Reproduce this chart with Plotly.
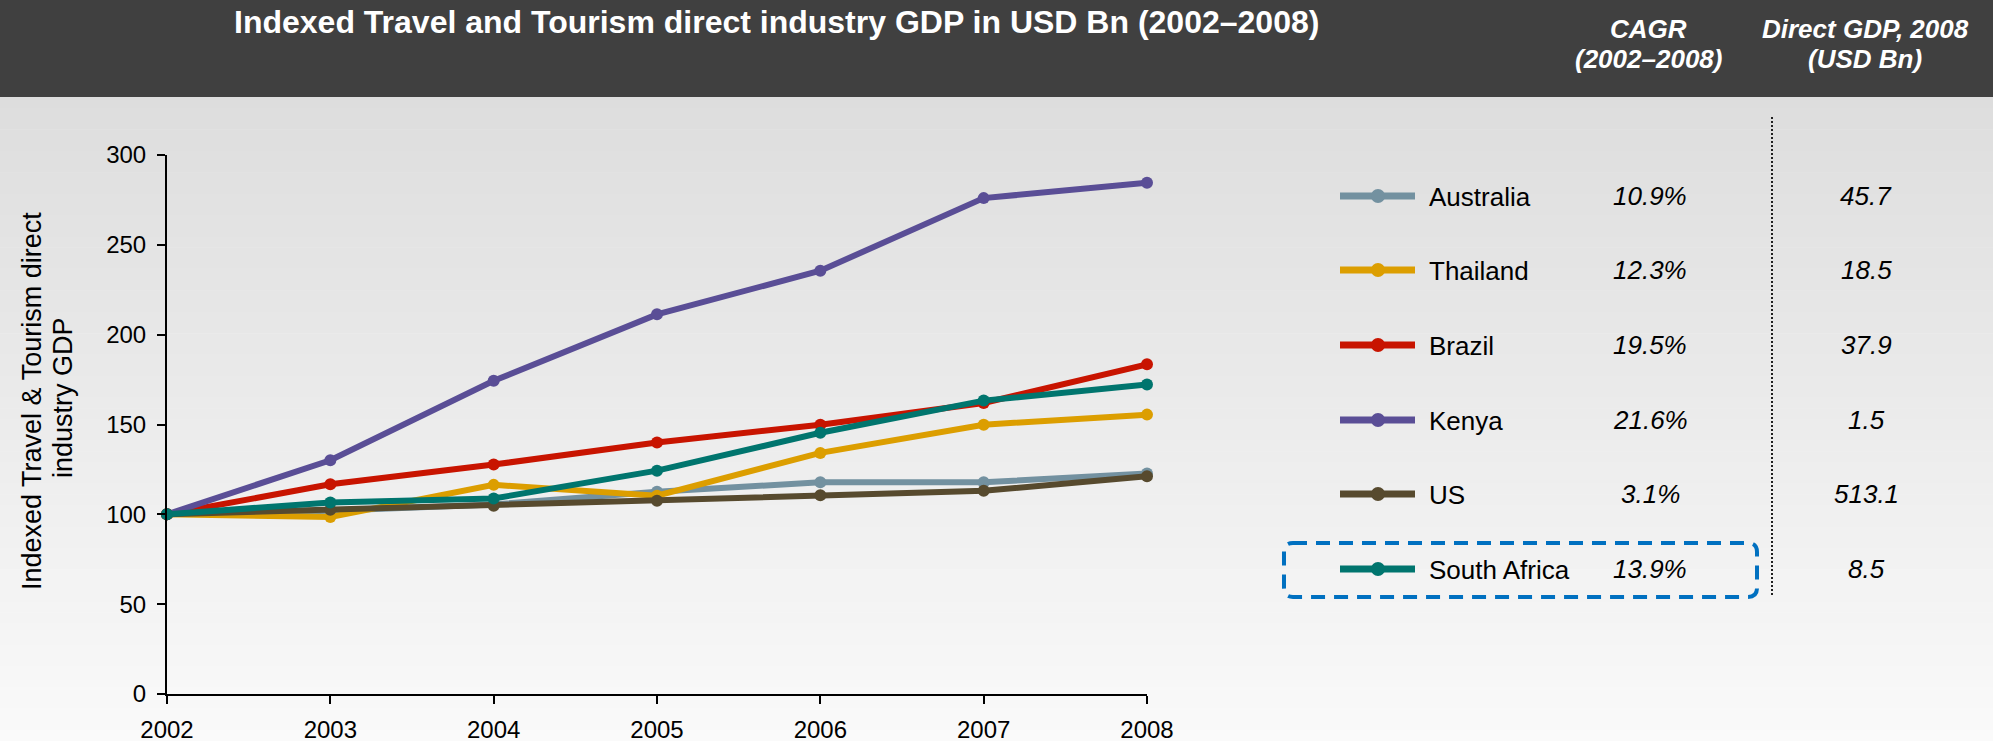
import plotly.graph_objects as go

W, H = 1993, 741

# ---------------- data ----------------
years = [2002, 2003, 2004, 2005, 2006, 2007, 2008]
countries = ["Australia", "Thailand", "Brazil", "Kenya", "US", "South Africa"]
australia = [100, 102.0, 105.5, 112.6, 117.8, 117.8, 122.7]
thailand = [100, 98.5, 116.4, 110.4, 134.2, 149.9, 155.5]
brazil = [100, 116.7, 127.7, 140.0, 149.9, 162.0, 183.5]
kenya = [100, 130.1, 174.3, 211.3, 235.6, 276.0, 284.6]
us = [100, 102.5, 104.8, 107.5, 110.6, 113.1, 121.2]
south_africa = [100, 106.6, 108.8, 124.3, 145.4, 163.3, 172.3]
cagr = ["10.9%", "12.3%", "19.5%", "21.6%", "3.1%", "13.9%"]
gdp_2008 = ["45.7", "18.5", "37.9", "1.5", "513.1", "8.5"]
y_ticks = [0, 50, 100, 150, 200, 250, 300]

series = [australia, thailand, brazil, kenya, us, south_africa]
colors = ["#7391a0", "#dc9e00", "#c81400", "#5a4e96", "#574a2e", "#00756e"]

FONT = "Liberation Sans, Arial, sans-serif"


def X(px):
    return px / W


def Y(py):
    return 1 - py / H


fig = go.Figure()
for name, vals, col in zip(countries, series, colors):
    fig.add_trace(go.Scatter(
        x=years, y=vals, name=name, mode="lines+markers",
        line=dict(color=col, width=6),
        marker=dict(size=12, color=col),
        cliponaxis=False, showlegend=False,
    ))

shapes = []
# background gradient
top, bot = 97, H
n = 60
for i in range(n):
    y0 = top + (bot - top) * i / n
    y1 = top + (bot - top) * (i + 1) / n + 0.6
    t = (i + 0.5) / n
    c = int(round(221 + (250 - 221) * t))
    shapes.append(dict(type="rect", xref="paper", yref="paper",
                       x0=0, x1=1, y0=Y(min(y1, H)), y1=Y(y0),
                       fillcolor=f"rgb({c},{c},{c})", line=dict(width=0),
                       layer="below"))
# header band
shapes.append(dict(type="rect", xref="paper", yref="paper", x0=0, x1=1,
                   y0=Y(97), y1=1, fillcolor="#404040", line=dict(width=0),
                   layer="below"))

annotations = []
annotations.append(dict(
    text="<b>Indexed Travel and Tourism direct industry GDP in USD Bn (2002–2008)</b>",
    x=X(776), y=Y(22), xref="paper", yref="paper", xanchor="center",
    yanchor="middle", showarrow=False,
    font=dict(family=FONT, size=32, color="white")))
for txt, cx, cy in [("CAGR", 1648, 29), ("(2002–2008)", 1648, 59),
                    ("Direct GDP, 2008", 1865, 29), ("(USD Bn)", 1865, 59)]:
    annotations.append(dict(
        text=f"<b><i>{txt}</i></b>", x=X(cx), y=Y(cy), xref="paper",
        yref="paper", xanchor="center", yanchor="middle", showarrow=False,
        font=dict(family=FONT, size=26, color="white")))

# y-axis title (two lines)
for txt, cx, cy in [("Indexed Travel &amp; Tourism direct", 32, 401),
                    ("industry GDP", 63, 398)]:
    annotations.append(dict(
        text=txt, x=X(cx), y=Y(cy), xref="paper", yref="paper",
        xanchor="center", yanchor="middle", textangle=-90, showarrow=False,
        font=dict(family=FONT, size=27, color="black")))

# legend table
row_y = [196, 270, 345, 420, 494, 569]
for name, col, cg, gd, ry in zip(countries, colors, cagr, gdp_2008, row_y):
    shapes.append(dict(type="line", xref="paper", yref="paper",
                       x0=X(1340), x1=X(1415), y0=Y(ry), y1=Y(ry),
                       line=dict(color=col, width=7)))
    r = 7
    shapes.append(dict(type="circle", xref="paper", yref="paper",
                       x0=X(1378 - r), x1=X(1378 + r), y0=Y(ry + r), y1=Y(ry - r),
                       fillcolor=col, line=dict(width=0)))
    annotations.append(dict(
        text=name, x=X(1427), y=Y(ry + 1), xref="paper", yref="paper",
        xanchor="left", yanchor="middle", showarrow=False,
        font=dict(family=FONT, size=26, color="black")))
    annotations.append(dict(
        text=f"<i>{cg}</i>", x=X(1650), y=Y(ry), xref="paper", yref="paper",
        xanchor="center", yanchor="middle", showarrow=False,
        font=dict(family=FONT, size=26, color="black")))
    annotations.append(dict(
        text=f"<i>{gd}</i>", x=X(1866), y=Y(ry), xref="paper", yref="paper",
        xanchor="center", yanchor="middle", showarrow=False,
        font=dict(family=FONT, size=26, color="black")))

# dotted separator
shapes.append(dict(type="line", xref="paper", yref="paper",
                   x0=X(1772), x1=X(1772), y0=Y(595), y1=Y(117),
                   line=dict(color="#202020", width=2, dash="2px,2px")))

# dashed rounded highlight box around South Africa
x0, x1, y0, y1, rr = 1284, 1757, 543, 597, 9
pts = [
    ("M", [(x0 + rr, y0)]), ("L", [(x1 - rr, y0)]),
    ("Q", [(x1, y0), (x1, y0 + rr)]), ("L", [(x1, y1 - rr)]),
    ("Q", [(x1, y1), (x1 - rr, y1)]), ("L", [(x0 + rr, y1)]),
    ("Q", [(x0, y1), (x0, y1 - rr)]), ("L", [(x0, y0 + rr)]),
    ("Q", [(x0, y0), (x0 + rr, y0)]),
]
path = ""
for cmd, ps in pts:
    path += cmd + " ".join(f"{X(a):.5f},{Y(b):.5f}" for a, b in ps) + " "
path += "Z"
shapes.append(dict(type="path", xref="paper", yref="paper", path=path,
                   line=dict(color="#0070c0", width=4, dash="14px,9px")))

axis_common = dict(
    showline=True, linecolor="black", linewidth=2, mirror=False,
    ticks="outside", ticklen=8, tickwidth=2, tickcolor="black",
    showgrid=False, zeroline=False, automargin=False,
    tickfont=dict(family=FONT, size=24, color="black"),
)

fig.update_layout(
    template="none",
    width=W, height=H, autosize=False,
    margin=dict(l=0, r=0, t=0, b=0, pad=0),
    paper_bgcolor="white", plot_bgcolor="rgba(0,0,0,0)",
    xaxis=dict(domain=[X(167), X(1147)], range=[2002, 2008],
               tickvals=years, ticktext=[str(y) for y in years],
               ticklabelstandoff=5, **axis_common),
    yaxis=dict(domain=[Y(694), Y(155)], range=[0, 300], tickvals=y_ticks,
               ticklabelstandoff=6, **axis_common),
    shapes=shapes, annotations=annotations,
    font=dict(family=FONT),
    showlegend=False,
)

fig.write_html(
    "out.html",
    config={"displayModeBar": False},
    post_script="document.body.style.margin='0';"
                "document.body.style.overflow='hidden';",
)
